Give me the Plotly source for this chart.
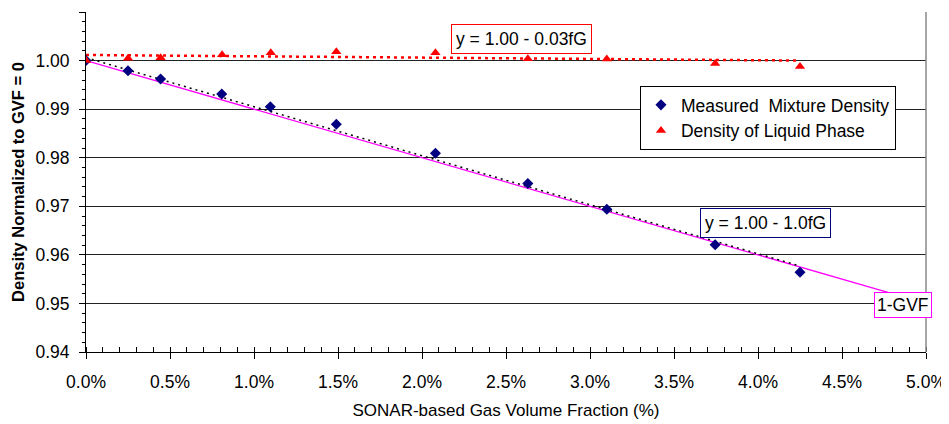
import plotly.graph_objects as go

# ---- data ----
gvf_mix = [0.0, 0.25, 0.444, 0.808, 1.097, 1.49, 2.08, 2.63, 3.10, 3.745, 4.25]
dens_mix = [1.0000, 0.9979, 0.9962, 0.9931, 0.9905, 0.9869, 0.9809, 0.9747, 0.9694, 0.9621, 0.9564]

gvf_liq = [0.0, 0.25, 0.444, 0.81, 1.10, 1.49, 2.08, 2.63, 3.10, 3.745, 4.25]
dens_liq = [1.0000, 1.0005, 1.0006, 1.0012, 1.0016, 1.0018, 1.0016, 1.0004, 1.0003, 0.9994, 0.9988]

trend_mix_x = [0.0, 4.25]
trend_mix_y = [1.0006, 0.9577]
trend_liq_x = [0.0, 4.25]
trend_liq_y = [1.00115, 1.0000]
ideal_x = [0.0, 5.0]
ideal_y = [1.00, 0.95]

name_mix = "Measured  Mixture Density"
name_liq = "Density of Liquid Phase"
label_liq = "y = 1.00 - 0.03fG"
label_mix = "y = 1.00 - 1.0fG"
label_ideal = "1-GVF"

x_title = "SONAR-based Gas Volume Fraction (%)"
y_title = "<b>Density Normalized to GVF = 0</b>"

FONT = "Liberation Sans, Arial, sans-serif"
FS = 17.5

fig = go.Figure()

fig.add_trace(go.Scatter(x=ideal_x, y=ideal_y, mode="lines",
                         line=dict(color="#ff00ff", width=1.3), showlegend=False, hoverinfo="skip"))
fig.add_trace(go.Scatter(x=trend_mix_x, y=trend_mix_y, mode="lines",
                         line=dict(color="#000000", width=1.5, dash="2px,4px"), showlegend=False, hoverinfo="skip"))
fig.add_trace(go.Scatter(x=trend_liq_x, y=trend_liq_y, mode="lines",
                         line=dict(color="#ff0000", width=2.5, dash="3px,4px"), showlegend=False, hoverinfo="skip"))
fig.add_trace(go.Scatter(x=gvf_mix, y=dens_mix, mode="markers", name=name_mix,
                         marker=dict(symbol="diamond", size=8.5, color="#000080")))
fig.add_trace(go.Scatter(x=gvf_liq, y=dens_liq, mode="markers", name=name_liq,
                         marker=dict(symbol="triangle-up", size=9, color="#ff0000")))

ann_font = dict(size=FS, color="#000", family=FONT)
fig.add_annotation(x=2.595, y=1.00439, xref="x", yref="y", text=label_liq, showarrow=False,
                   font=ann_font, bgcolor="white", bordercolor="#ff0000",
                   borderwidth=1, borderpad=4)
fig.add_annotation(x=4.042, y=0.96656, xref="x", yref="y", text=label_mix, showarrow=False,
                   font=ann_font, bgcolor="white", bordercolor="#000080",
                   borderwidth=1, borderpad=4)
fig.add_annotation(x=4.863, y=0.94975, xref="x", yref="y", text=label_ideal, showarrow=False,
                   font=ann_font, bgcolor="white", bordercolor="#ff00ff",
                   borderwidth=1, borderpad=2)

fig.add_shape(type="line", xref="paper", yref="paper", x0=1, x1=1, y0=0, y1=1,
              line=dict(color="#888888", width=1.5))

# page body adds an 8px offset, so margins are reduced on left/top accordingly
fig.update_layout(
    width=949, height=424,
    margin=dict(l=78, r=31, t=4, b=80),
    paper_bgcolor="white", plot_bgcolor="white",
    font=dict(family=FONT, size=FS, color="#000"),
    showlegend=True,
    legend=dict(x=0.6595, y=0.7824, xanchor="left", yanchor="top",
                bgcolor="white", bordercolor="#000", borderwidth=1,
                font=dict(size=FS, family=FONT), itemwidth=30, tracegroupgap=0),
    xaxis=dict(range=[0, 5], dtick=0.5, tickformat=".1f", ticksuffix="%", automargin=False,
               tickfont=dict(size=FS, family=FONT),
               showgrid=False, zeroline=False, showline=True, linecolor="#000", linewidth=1,
               ticks="outside", ticklen=6, tickcolor="#000", ticklabelstandoff=8,
               minor=dict(dtick=0.1, ticks="inside", ticklen=5, tickcolor="#000", showgrid=False),
               title=dict(text=x_title, font=dict(size=17, family=FONT), standoff=13)),
    yaxis=dict(range=[0.94, 1.01], dtick=0.01, tickformat=".2f", automargin=False,
               tickfont=dict(size=FS, family=FONT),
               showgrid=True, gridcolor="#222", gridwidth=1, zeroline=False,
               showline=True, linecolor="#000", linewidth=1,
               ticks="outside", ticklen=6, tickcolor="#000", ticklabelstandoff=6,
               minor=dict(dtick=0.002, ticks="outside", ticklen=3, tickcolor="#000", showgrid=False),
               title=dict(text=y_title, font=dict(size=16.5, family=FONT), standoff=6)),
)

fig.write_html("out.html")
